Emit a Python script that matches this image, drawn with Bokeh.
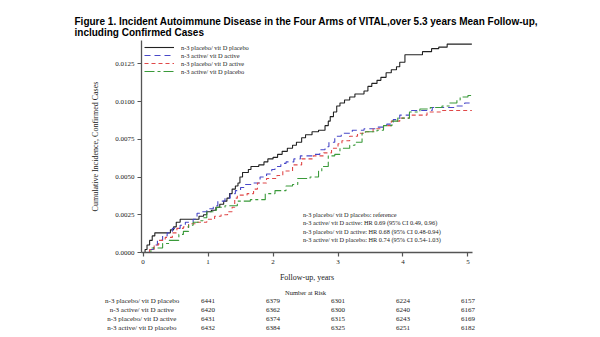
from bokeh.plotting import figure
from bokeh.models import (Legend, LegendItem, FixedTicker, NumeralTickFormatter, Range1d,
                          LinearAxis, Title)
from bokeh.core.properties import value
from bokeh.embed import file_html
from bokeh.resources import INLINE

# ---------------- data ----------------
t_pp = [0.00, 0.03, 0.06, 0.10, 0.14, 0.18, 0.42, 0.47, 0.51, 0.57, 0.86, 0.93, 0.98, 1.05, 1.12, 1.18,
        1.24, 1.29, 1.33, 1.37, 1.42, 1.46, 1.49, 1.53, 1.62, 1.66, 1.78, 1.86, 1.92, 2.00, 2.07, 2.14,
        2.22, 2.30, 2.36, 2.44, 2.50, 2.60, 2.70, 2.80, 2.85, 2.88, 2.93, 2.98, 3.03, 3.10, 3.18, 3.26,
        3.40, 3.46, 3.52, 3.60, 3.66, 3.74, 3.82, 3.90, 3.95, 4.03, 4.30, 4.44, 4.55, 4.68, 5.06]
y_pp = [0.0000, 0.0002, 0.0005, 0.0008, 0.0011, 0.0013, 0.0015, 0.0017, 0.0020, 0.0022, 0.0024, 0.0025,
        0.0027, 0.0028, 0.0030, 0.0032, 0.0034, 0.0036, 0.0039, 0.0042, 0.0044, 0.0046, 0.0050, 0.0053,
        0.0055, 0.0057, 0.0058, 0.0060, 0.0062, 0.0063, 0.0065, 0.0067, 0.0069, 0.0071, 0.0073, 0.0076,
        0.0078, 0.0080, 0.0081, 0.0084, 0.0087, 0.0090, 0.0093, 0.0097, 0.0099, 0.0101, 0.0103, 0.0105,
        0.0107, 0.0110, 0.0112, 0.0114, 0.0116, 0.0119, 0.0121, 0.0123, 0.0126, 0.0131, 0.0133, 0.0135,
        0.0136, 0.0138, 0.0138]

t_aa = [0.00, 0.08, 0.16, 0.22, 0.30, 0.37, 0.45, 0.57, 0.65, 0.77, 0.83, 0.90, 0.98, 1.08, 1.15, 1.26,
        1.34, 1.42, 1.50, 1.56, 1.70, 1.80, 1.90, 1.98, 2.03, 2.12, 2.20, 2.32, 2.42, 2.60, 2.72, 2.80,
        2.86, 2.95, 3.05, 3.22, 3.40, 3.58, 3.75, 3.85, 3.95, 4.10, 4.45, 4.80, 4.95, 5.06]
y_aa = [0.0000, 0.0002, 0.0005, 0.0008, 0.0011, 0.0013, 0.0016, 0.0018, 0.0020, 0.0022, 0.0026, 0.0027,
        0.0029, 0.0031, 0.0034, 0.0036, 0.0039, 0.0041, 0.0043, 0.0045, 0.0046, 0.0050, 0.0052, 0.0055,
        0.0057, 0.0059, 0.0060, 0.0062, 0.0064, 0.0065, 0.0068, 0.0070, 0.0073, 0.0077, 0.0079, 0.0081,
        0.0082, 0.0083, 0.0085, 0.0088, 0.0091, 0.0094, 0.0096, 0.0097, 0.0099, 0.0099]

t_pa = [0.00, 0.10, 0.17, 0.24, 0.34, 0.45, 0.52, 0.62, 0.70, 0.82, 0.98, 1.10, 1.20, 1.30, 1.37, 1.41,
        1.45, 1.60, 1.70, 1.76, 1.90, 2.06, 2.15, 2.30, 2.44, 2.62, 2.78, 2.90, 3.00, 3.06, 3.18, 3.30,
        3.40, 3.54, 3.70, 3.82, 3.95, 4.10, 4.37, 4.60, 5.06]
y_pa = [0.0000, 0.0002, 0.0005, 0.0008, 0.0010, 0.0013, 0.0016, 0.0017, 0.0019, 0.0020, 0.0022, 0.0024,
        0.0025, 0.0027, 0.0030, 0.0036, 0.0038, 0.0039, 0.0042, 0.0046, 0.0049, 0.0051, 0.0054, 0.0058,
        0.0062, 0.0064, 0.0066, 0.0069, 0.0072, 0.0074, 0.0077, 0.0079, 0.0080, 0.0082, 0.0084, 0.0087,
        0.0089, 0.0091, 0.0093, 0.0094, 0.0094]

t_ap = [0.00, 0.12, 0.30, 0.40, 0.55, 0.62, 0.70, 0.77, 0.85, 0.92, 0.98, 1.08, 1.13, 1.26, 1.45, 1.65,
        1.88, 2.03, 2.20, 2.30, 2.38, 2.57, 2.70, 2.75, 2.85, 2.95, 3.03, 3.18, 3.26, 3.37, 3.42, 3.60,
        3.70, 3.83, 3.92, 4.10, 4.26, 4.42, 4.60, 4.72, 4.83, 4.88, 5.00, 5.06]
y_ap = [0.0000, 0.0003, 0.0006, 0.0008, 0.0012, 0.0014, 0.0018, 0.0020, 0.0021, 0.0023, 0.0027, 0.0028,
        0.0030, 0.0031, 0.0034, 0.0035, 0.0039, 0.0041, 0.0044, 0.0045, 0.0049, 0.0050, 0.0054, 0.0057,
        0.0064, 0.0065, 0.0069, 0.0071, 0.0073, 0.0079, 0.0080, 0.0081, 0.0084, 0.0087, 0.0089, 0.0093,
        0.0095, 0.0096, 0.0097, 0.0099, 0.0101, 0.0103, 0.0104, 0.0104]

arm_names = ["n-3 placebo/ vit D placebo", "n-3 active/ vit D active",
             "n-3 placebo/ vit D active", "n-3 active/ vit D placebo"]
y_ticks = [0.0, 0.0025, 0.005, 0.0075, 0.01, 0.0125]
x_ticks = [0, 1, 2, 3, 4, 5]
risk_years = [1, 2, 3, 4, 5]
risk_pp = [6441, 6379, 6301, 6224, 6157]
risk_aa = [6420, 6362, 6300, 6240, 6167]
risk_pa = [6431, 6374, 6315, 6243, 6169]
risk_ap = [6432, 6384, 6325, 6251, 6182]
hr_lines = ["n-3 placebo/ vit D placebo: reference",
            "n-3 active/ vit D active:    HR 0.69 (95% CI 0.49, 0.96)",
            "n-3 placebo/ vit D active: HR 0.68 (95% CI 0.48-0.94)",
            "n-3 active/ vit D placebo: HR 0.74 (95% CI 0.54-1.03)"]
title_lines = ["Figure 1. Incident Autoimmune Disease in the Four Arms of VITAL,over 5.3 years Mean Follow-up,",
               "including Confirmed Cases"]

SERIF = "Liberation Serif"
W, H = 600, 337
FL, FR, FT, FB = 141, 472, 40, 252      # frame edges on the canvas
X0, X1 = -0.025, 5.07
Y0, Y1 = 0.0, 0.01404

p = figure(width=W, height=H, output_backend="svg", toolbar_location=None,
           x_range=Range1d(X0, X1), y_range=Range1d(Y0, Y1),
           min_border_left=FL, min_border_right=W - FR, min_border_top=FT,
           min_border_bottom=H - FB)
p.outline_line_color = None
p.grid.visible = False
p.background_fill_color = "white"
p.border_fill_color = "white"

# ---------------- title (above panel) ----------------
p.add_layout(Title(text="\n".join(title_lines), align="left", offset=74 - FL, standoff=5,
                   text_font="Liberation Sans", text_font_style="bold", text_font_size="10px",
                   text_color="#000000"), "above")

# ---------------- axes ----------------
for ax in (p.xaxis[0], p.yaxis[0]):
    ax.axis_line_color = "#555555"
    ax.axis_line_width = 1.3
    ax.major_tick_line_color = "#555555"
    ax.major_tick_line_width = 1.2
    ax.major_tick_out = 4
    ax.major_tick_in = 0
    ax.minor_tick_line_color = None
    ax.major_label_text_font = SERIF
    ax.major_label_text_font_size = "7px"
    ax.major_label_text_color = "#222222"
    ax.axis_label_text_font = SERIF
    ax.axis_label_text_font_style = "normal"
    ax.axis_label_text_color = "#222222"

p.yaxis.ticker = FixedTicker(ticks=y_ticks)
p.yaxis.formatter = NumeralTickFormatter(format="0.0000")
p.yaxis.major_label_standoff = 3
p.yaxis.axis_label = "Cumulative Incidence, Confirmed Cases"
p.yaxis.axis_label_text_font_size = "8px"
p.yaxis.axis_label_standoff = 12

p.xaxis.ticker = FixedTicker(ticks=x_ticks)
p.xaxis.major_label_standoff = 3
p.xaxis.axis_label = "Follow-up, years"
p.xaxis.axis_label_text_font_size = "8px"
p.xaxis.axis_label_standoff = 6

# ---------------- curves ----------------
r_pp = p.step(t_pp, y_pp, mode="after", line_color="#222222", line_width=1.1)
r_aa = p.step(t_aa, y_aa, mode="after", line_color="#4848c8", line_width=1.1, line_dash="6 4")
r_pa = p.step(t_pa, y_pa, mode="after", line_color="#e04848", line_width=1.1, line_dash="4 3")
r_ap = p.step(t_ap, y_ap, mode="after", line_color="#3a9a3a", line_width=1.1, line_dash="10 3 3 3")

legend = Legend(items=[LegendItem(label=arm_names[0], renderers=[r_pp]),
                       LegendItem(label=arm_names[1], renderers=[r_aa]),
                       LegendItem(label=arm_names[2], renderers=[r_pa]),
                       LegendItem(label=arm_names[3], renderers=[r_ap])],
                location="top_left", margin=3, padding=4, spacing=0,
                glyph_width=30, glyph_height=8, label_height=8, label_standoff=7,
                label_text_font=SERIF, label_text_font_size="6.4px", label_text_color="#222222",
                border_line_color=None, background_fill_alpha=0)
p.add_layout(legend)

# HR annotation
hr_x = [2.46] * 4
hr_y = [0.00250, 0.00196, 0.00142, 0.00088]
p.text(x=hr_x, y=hr_y, text=hr_lines, text_font=value(SERIF), text_font_size="6.3px",
       text_color="#222222", text_baseline="middle", text_align="left")


# ---------------- number-at-risk table as label-only axes below ----------------
def text_axis(ticks, labels, font_size, standoff):
    ax = LinearAxis(ticker=FixedTicker(ticks=ticks),
                    major_label_overrides={t: s for t, s in zip(ticks, labels)})
    ax.axis_line_color = None
    ax.major_tick_line_color = None
    ax.minor_tick_line_color = None
    ax.major_tick_out = 0
    ax.major_tick_in = 0
    ax.major_label_standoff = standoff
    ax.major_label_text_font = SERIF
    ax.major_label_text_font_size = font_size
    ax.major_label_text_color = "#222222"
    p.add_layout(ax, "below")
    return ax


text_axis([2.5], ["Number at Risk"], "6.5px", 4)
name_ticks = [-0.014, -0.02, -0.02, -0.02]   # centres of the row titles (kept inside the x range)
for name_t, name, vals in zip(name_ticks, arm_names, [risk_pp, risk_aa, risk_pa, risk_ap]):
    text_axis([name_t] + risk_years, [name] + [str(v) for v in vals], "7px", -2)

open("out.html", "w").write(file_html(p, INLINE))
